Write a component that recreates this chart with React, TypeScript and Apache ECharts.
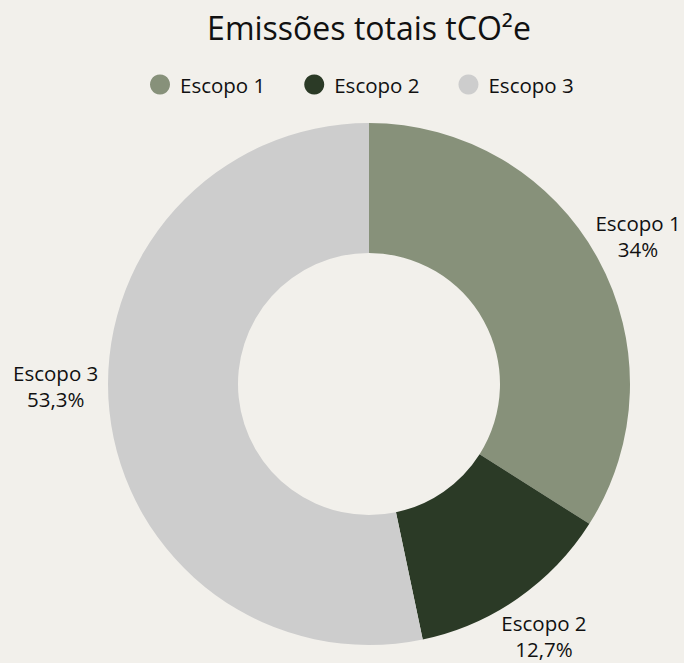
import React, { useEffect, useRef } from "react";
import * as echarts from "echarts";

const categories = ["Escopo 1", "Escopo 2", "Escopo 3"];
const values = [34, 12.7, 53.3];
const colors = ["#87917a", "#2b3a26", "#cdcdcd"];

// small nudges of the outside labels, as in the reference
const LEFT_LABEL_DY = -30;
const LEFT_LABEL_DX = -3;
const RIGHT_LABEL_DX = -5;

export default function App() {
  const ref = useRef<HTMLDivElement>(null);
  useEffect(() => {
    const chart = echarts.init(ref.current!, null, { renderer: "svg" });
    const font = "'Open Sans', 'Noto Sans', sans-serif";
    chart.setOption({
      animation: false,
      backgroundColor: "#f2f0eb",
      title: {
        text: "Emissões totais tCO²e",
        left: 364,
        textAlign: "center",
        top: 6,
        textStyle: { fontFamily: font, fontSize: 32, fontWeight: "normal", color: "#111" },
      },
      legend: {
        data: categories,
        left: 145,
        top: 69,
        icon: "circle",
        itemWidth: 20,
        itemHeight: 20,
        itemGap: 39,
        textStyle: { fontFamily: font, fontSize: 20.5, color: "#111", padding: [0, 0, 0, 5] },
      },
      series: [
        {
          type: "pie",
          center: [369, 384],
          radius: [131, 261],
          startAngle: 90,
          clockwise: true,
          avoidLabelOverlap: false,
          data: categories.map((c, i) => ({ name: c, value: values[i], itemStyle: { color: colors[i] } })),
          label: {
            show: true,
            position: "outside",
            overflow: "none",
            fontFamily: font,
            fontSize: 20.5,
            lineHeight: 26,
            color: "#111",
            formatter: (p: any) => `${p.name}\n${String(p.value).replace(".", ",")}%`,
          },
          labelLine: { show: false, length: 46, length2: 0 },
          labelLayout: (p: any) => {
            const left = p.labelRect.x < 369;
            return {
              align: "center",
              verticalAlign: "middle",
              dx: left ? LEFT_LABEL_DX : RIGHT_LABEL_DX,
              dy: left ? LEFT_LABEL_DY : 0,
            };
          },
        },
      ],
    });
    return () => chart.dispose();
  }, []);
  return <div ref={ref} style={{ position: "absolute", left: 0, top: 0, width: 684, height: 663 }} />;
}
